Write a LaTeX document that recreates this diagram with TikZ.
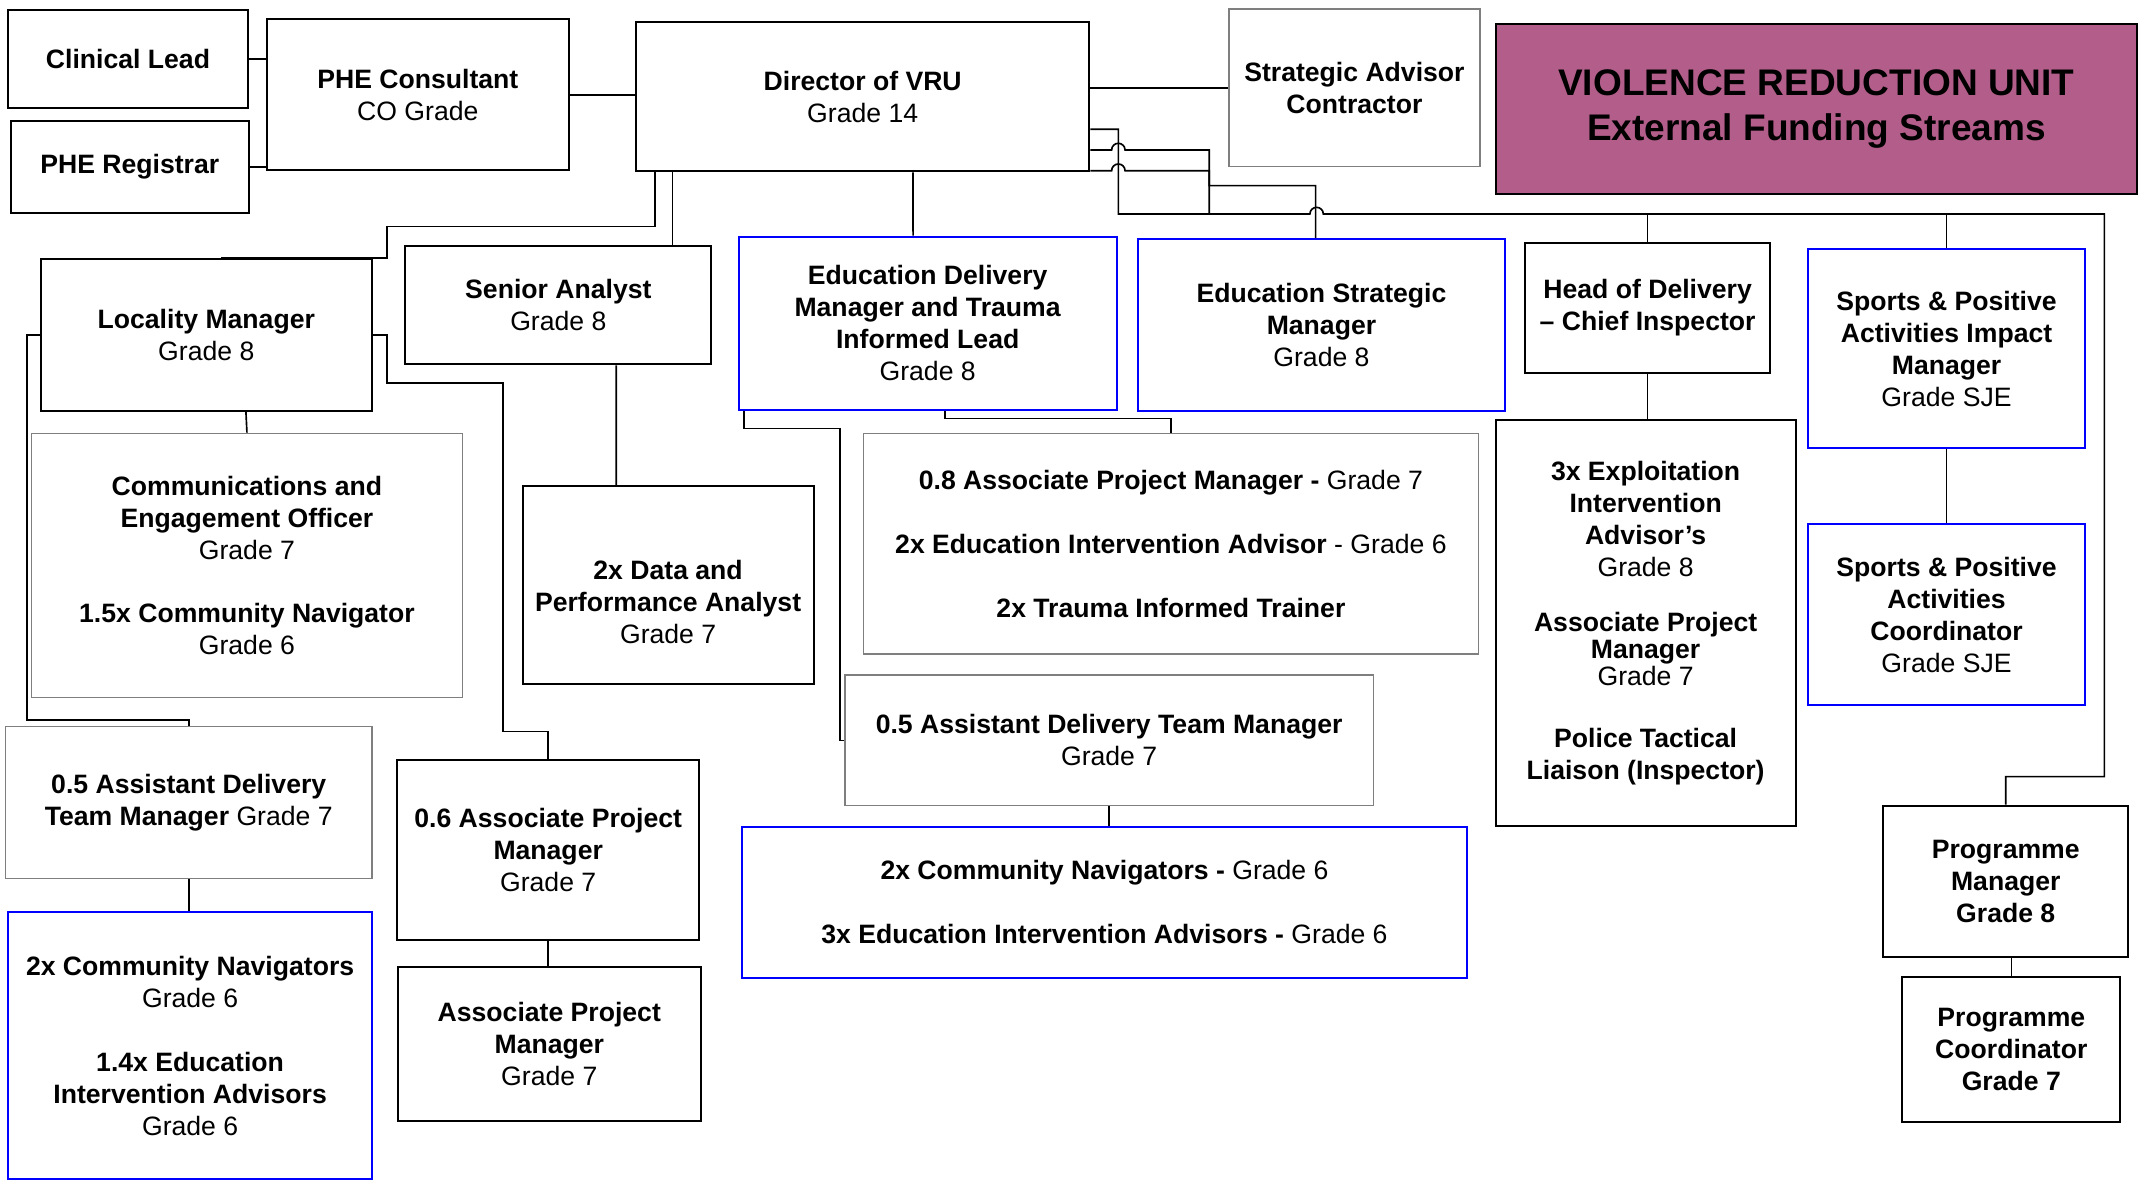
\documentclass[tikz,border=0pt]{standalone}
\usepackage{fontspec}
\setmainfont{Liberation Sans}
\usetikzlibrary{calc}
\definecolor{vrupink}{HTML}{B35E8A}
\definecolor{boxgrey}{HTML}{7F7F7F}

\begin{document}
\begin{tikzpicture}[x=0.5pt, y=-0.5pt,
  box/.style={draw, line width=0.75pt, align=center, inner sep=0pt, font=\fontsize{9.7}{11.65}\selectfont},
  greybox/.style={box, draw=boxgrey, line width=0.5pt},
  bluebox/.style={box, draw=blue, line width=0.7pt},
  link/.style={line width=0.6pt}]
\useasboundingbox (0,0) rectangle (1568,861.3);

% top row
\node[box, minimum width=87.25pt, minimum height=35.85pt] (CL) at (93.35,43.15) {\textbf{Clinical Lead}};
\node[box, minimum width=86.95pt, minimum height=33.45pt] (PR) at (94.65,121.65) {\textbf{PHE Registrar}};
\node[box, minimum width=110.3pt, minimum height=55.15pt] (PC) at (304.7,69.05) {\textbf{PHE Consultant}\\CO Grade};
\node[box, minimum width=165.35pt, minimum height=54.5pt] (DIR) at (629.15,70.5) {\textbf{Director of VRU}\\Grade 14};
\node[greybox, minimum width=91.6pt, minimum height=57.5pt] (SA) at (987.8,64.1) {\textbf{Strategic Advisor}\\\textbf{Contractor}};
\node[box, fill=vrupink, minimum width=234pt, minimum height=62.25pt, font=\fontsize{13.5}{16.5}\selectfont\bfseries] (VRU) at (1324.7,79.5) {VIOLENCE REDUCTION UNIT\\External Funding Streams};

% second row
\node[box, minimum width=120.75pt, minimum height=55.2pt] (LM) at (150.45,244.3) {\textbf{Locality Manager}\\Grade 8};
\node[box, minimum width=111.5pt, minimum height=43.25pt] (SN) at (407.2,222.45) {\textbf{Senior Analyst}\\Grade 8};
\node[bluebox, minimum width=137.85pt, minimum height=63.2pt] (EDM) at (676.55,235.8) {\textbf{Education Delivery}\\\textbf{Manager and Trauma}\\\textbf{Informed Lead}\\Grade 8};
\node[bluebox, minimum width=134.05pt, minimum height=62.6pt] (ESM) at (963.75,236.9) {\textbf{Education Strategic}\\\textbf{Manager}\\Grade 8};
\node[box, minimum width=89.5pt, minimum height=47.4pt] (HD) at (1201.6,224.4) {\textbf{Head of Delivery}\\\textbf{– Chief Inspector}};
\node[bluebox, minimum width=101.3pt, minimum height=72.55pt] (SPM) at (1419.6,254.35) {\textbf{Sports \& Positive}\\\textbf{Activities Impact}\\\textbf{Manager}\\Grade SJE};

% teams
\node[greybox, minimum width=157.1pt, minimum height=96.4pt] (CEO) at (180.1,412.4) {\textbf{Communications and}\\\textbf{Engagement Officer}\\Grade 7\\[11.65pt]\textbf{1.5x Community Navigator}\\Grade 6};
\node[box, minimum width=106.15pt, minimum height=72.3pt] (DPA) at (487.25,426.7) {\mbox{}\\[7.7pt]\textbf{2x Data and}\\\textbf{Performance Analyst}\\Grade 7};
\node[greybox, minimum width=224.35pt, minimum height=80.5pt] (APM8) at (853.95,396.5) {\textbf{0.8 Associate Project Manager -} Grade 7\\[11.65pt]\textbf{2x Education Intervention Advisor} - Grade 6\\[11.65pt]\textbf{2x Trauma Informed Trainer}};
\node[box, minimum width=109.45pt, minimum height=148.05pt] (EIA) at (1200.15,454.35) {\textbf{3x Exploitation}\\\textbf{Intervention}\\\textbf{Advisor’s}\\Grade 8\\[8.65pt]\textbf{Associate Project}\\[-1.95pt]\textbf{Manager}\\[-1.95pt]Grade 7\\[11.1pt]\textbf{Police Tactical}\\\textbf{Liaison (Inspector)}};
\node[bluebox, minimum width=101.3pt, minimum height=66.1pt] (SPC) at (1419.6,448.3) {\textbf{Sports \& Positive}\\\textbf{Activities}\\\textbf{Coordinator}\\Grade SJE};
\node[greybox, minimum width=192.7pt, minimum height=47.65pt] (ADM) at (808.9,539.95) {\textbf{0.5 Assistant Delivery Team Manager}\\Grade 7};
\node[greybox, minimum width=133.55pt, minimum height=55.25pt] (ADL) at (137.65,585.25) {\textbf{0.5 Assistant Delivery}\\\textbf{Team Manager} Grade 7};
\node[box, minimum width=110.3pt, minimum height=65.6pt] (APM6) at (399.8,619.9) {\textbf{0.6 Associate Project}\\\textbf{Manager}\\Grade 7};
\node[box, minimum width=110.5pt, minimum height=56.15pt] (APM) at (400.6,761.15) {\textbf{Associate Project}\\\textbf{Manager}\\Grade 7};
\node[bluebox, minimum width=264.7pt, minimum height=55.05pt] (CNM) at (805.5,657.95) {\textbf{2x Community Navigators -} Grade 6\\[11.65pt]\textbf{3x Education Intervention Advisors -} Grade 6};
\node[bluebox, minimum width=132.55pt, minimum height=97.35pt] (CNL) at (138.65,762.65) {\textbf{2x Community Navigators}\\Grade 6\\[11.65pt]\textbf{1.4x Education}\\\textbf{Intervention Advisors}\\Grade 6};
\node[box, minimum width=89.3pt, minimum height=55.3pt] (PM) at (1462.8,642.9) {\textbf{Programme}\\\textbf{Manager}\\\textbf{Grade 8}};
\node[box, minimum width=79.55pt, minimum height=52.9pt] (PCO) at (1466.85,765.6) {\textbf{Programme}\\\textbf{Coordinator}\\\textbf{Grade 7}};

\coordinate (BUS) at (1534.7,156.1);

\draw[link] (CL.east) -- (CL.east -| PC.west);
\draw[link] (PR.east) -- (PR.east -| PC.west);
\draw[link] (PC.east) -- (PC.east -| DIR.west);
\draw[link] (SA.west -| DIR.east) -- (SA.west);
\draw[link] ([xshift=7.3pt]DIR.south west) |- (282.2,165.3) |- ([xshift=5.375pt]LM.north);
\draw[link] ([xshift=13.65pt]DIR.south west) -- ([xshift=97.7pt]SN.north west);
\draw[link] ([xshift=101.4pt]DIR.south west) -- ([xshift=63.95pt]EDM.north west);
\draw[link] ([xshift=75.2pt]LM.south west) -- (CEO.north);
\draw[link] (LM.west) -| (19.5,525.1) -| (ADL.north);
\draw[link] (LM.east) -| (282.4,279.5) -| (366.8,533.6) -| (APM6.north);
\draw[link] ([xshift=77.25pt]SN.south west) -- ([xshift=34.55pt]DPA.north west);
\draw[link] ([xshift=2.3pt]EDM.south west) |- (612.6,312.4) |- (ADM.west);
\draw[link] ([xshift=75.5pt]EDM.south west) -- ++(0,5.6) -| (APM8.north);
\draw[link] (HD.south) -- (HD.south |- EIA.north);
\draw[link] (SPM.south) -- (SPC.north);
\draw[link] (ADM.south) -- (ADM.south |- CNM.north);
\draw[link] (ADL.south) -- (ADL.south |- CNL.north);
\draw[link] (APM6.south) -- (APM6.south |- APM.north);
\draw[link] (PCO.north) -- (PCO.north |- PM.south);

% lines out of the director, with hops
\draw[link] ([yshift=-11.9pt]DIR.east) -| (815.6,156.1) -- (955.3,156.1) arc[start angle=180, end angle=0, radius=2.45pt] -- (BUS) |- (1463.1,566.4) -| (PM.north);
\draw[link] ([yshift=-19.45pt]DIR.east) -- (810.7,109.4) arc[start angle=180, end angle=0, radius=2.45pt] -| (881.9,156.1);
\draw[link] ([yshift=-27pt]DIR.east) -- (810.7,124.5) arc[start angle=180, end angle=0, radius=2.45pt] -| (881.9,135.4) -| ([xshift=65.25pt]ESM.north west);
\draw[link] (HD.north) -- (HD.north |- BUS);
\draw[link] (SPM.north) -- (SPM.north |- BUS);

\end{tikzpicture}
\end{document}
